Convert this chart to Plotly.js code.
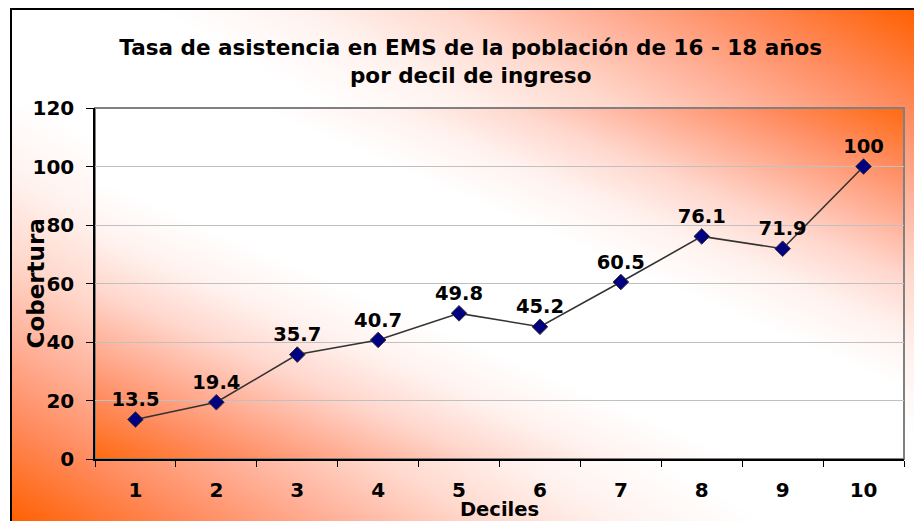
<!DOCTYPE html>
<html>
<head>
<meta charset="utf-8">
<script src="https://cdn.plot.ly/plotly-3.0.1.min.js"></script>
<style>
  html, body { margin: 0; padding: 0; background: #fff; }
  #wrap { position: relative; width: 914px; height: 521px; overflow: hidden; }
  #frame {
    position: absolute; left: 10px; top: 8px; width: 904px; height: 513px;
    border-left: 2px solid #000; border-top: 2px solid #000;
    background: linear-gradient(to top right, #ff6000 0%, #ff8a5c 10%, #ffb098 18%, #ffd8cc 26%, #fff2ee 34%, #ffffff 42%, #ffffff 58%, #fff2ee 66%, #ffd8cc 74%, #ffb098 82%, #ff8a5c 90%, #ff6000 100%);
  }
  #plotbg {
    position: absolute; left: 95px; top: 108px; width: 809px; height: 351px;
    background: linear-gradient(to top right, #ff6a10 0%, #ff8c60 9%, #ffae94 16%, #ffd6cc 24%, #fff2ee 32%, #ffffff 40%, #ffffff 60%, #fff2ee 68%, #ffd6cc 76%, #ffae94 84%, #ff8c60 91%, #ff6a10 100%);
  }
  #chart { position: absolute; left: 0; top: 0; width: 914px; height: 521px; }
</style>
</head>
<body>
<div id="wrap">
  <div id="frame"></div>
  <div id="plotbg"></div>
  <div id="chart"></div>
</div>
<script>
const deciles = ["1", "2", "3", "4", "5", "6", "7", "8", "9", "10"];
const cobertura = [13.5, 19.4, 35.7, 40.7, 49.8, 45.2, 60.5, 76.1, 71.9, 100];

const fuente = "DejaVu Sans, Verdana, sans-serif";

Plotly.newPlot("chart", [{
  x: deciles,
  y: cobertura,
  text: cobertura.map(v => String(v)),
  mode: "lines+markers+text",
  textposition: "top center",
  textfont: { family: fuente, size: 19.5, color: "#000", weight: "bold" },
  line: { color: "#333333", width: 1.6 },
  marker: { symbol: "diamond", size: 12, color: "#000080", line: { color: "#333333", width: 1 } },
  cliponaxis: false,
  type: "scatter"
}], {
  width: 914,
  height: 521,
  paper_bgcolor: "rgba(0,0,0,0)",
  plot_bgcolor: "rgba(0,0,0,0)",
  margin: { l: 95, r: 10, t: 108, b: 62 },
  showlegend: false,
  font: { family: fuente, color: "#000" },
  title: {
    text: "Tasa de asistencia en EMS de la población de 16 - 18 años<br>por decil de ingreso",
    font: { family: fuente, size: 21.5, color: "#000", weight: "bold" },
    x: 0.515, xanchor: "center",
    y: 0.895, yanchor: "middle"
  },
  xaxis: {
    type: "category",
    range: [-0.5, deciles.length - 0.5],
    tickson: "boundaries",
    ticks: "outside",
    ticklen: 6,
    tickcolor: "#000",
    ticklabelstandoff: 12,
    showline: true,
    linecolor: "#000",
    linewidth: 1.5,
    showgrid: false,
    tickfont: { family: fuente, size: 20, weight: "bold" },
    title: { text: "Deciles", standoff: 0, font: { family: fuente, size: 19.5, weight: "bold" } },
    automargin: false
  },
  yaxis: {
    range: [0, 120],
    dtick: 20,
    ticks: "outside",
    ticklen: 7,
    tickcolor: "#000",
    ticklabelstandoff: 8,
    showline: true,
    linecolor: "#000",
    linewidth: 1.5,
    showgrid: true,
    gridcolor: "#c0c0c0",
    gridwidth: 1,
    zeroline: false,
    tickfont: { family: fuente, size: 20, weight: "bold" },
    automargin: false
  },
  annotations: [{
    text: "Cobertura",
    xref: "paper", yref: "paper",
    x: -60 / 809, y: 0.5,
    xanchor: "center", yanchor: "middle",
    textangle: -90,
    showarrow: false,
    font: { family: fuente, size: 23, color: "#000", weight: "bold" }
  }],
  shapes: [{
    type: "rect", xref: "paper", yref: "paper", x0: 0, x1: 1, y0: 0, y1: 1,
    line: { color: "#808080", width: 2 }, layer: "below"
  }]
}, { displayModeBar: false });
</script>
</body>
</html>
